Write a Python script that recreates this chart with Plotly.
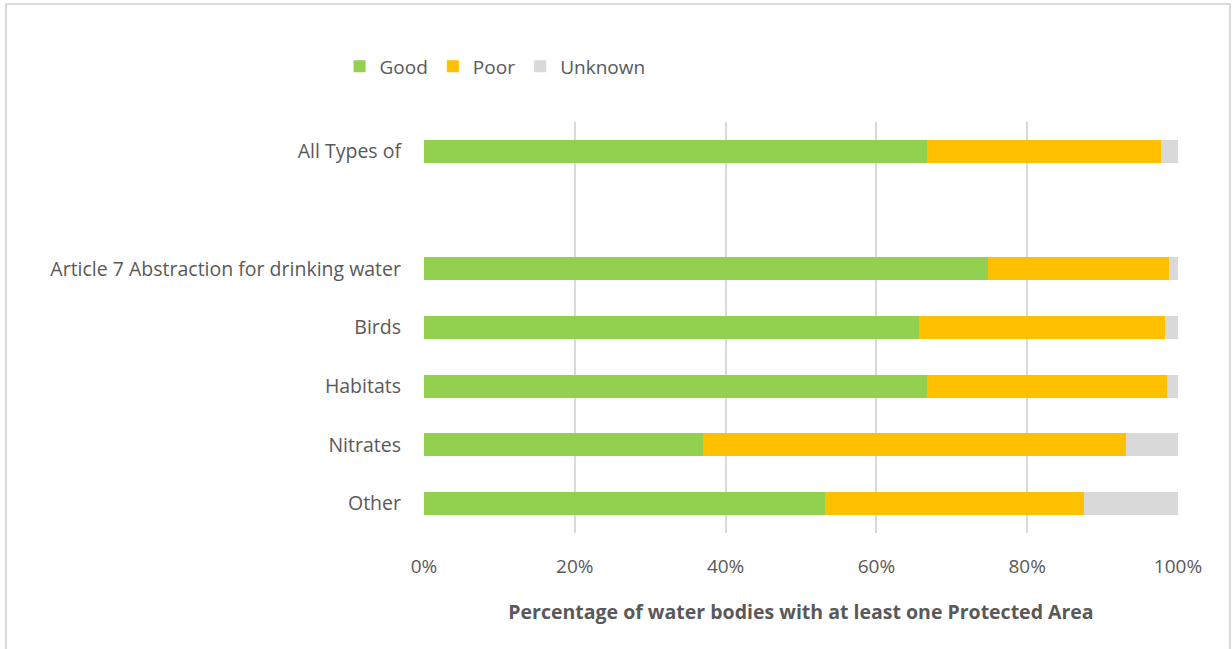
import plotly.graph_objects as go

categories = ["All Types of", " ", "Article 7 Abstraction for drinking water",
              "Birds", "Habitats", "Nitrates", "Other"]
good = [66.7, None, 74.8, 65.7, 66.7, 37.0, 53.2]
poor = [31.0, None, 24.0, 32.6, 31.8, 56.1, 34.3]
unknown = [2.3, None, 1.2, 1.7, 1.5, 6.9, 12.5]
x_ticks = [0, 20, 40, 60, 80, 100]
x_tick_labels = ["0%", "20%", "40%", "60%", "80%", "100%"]

FONT = "Open Sans, Segoe UI, Calibri, sans-serif"
GRAY = "#595959"

fig = go.Figure()
for name, vals, color in [("Good", good, "#92d050"),
                          ("Poor", poor, "#ffc000"),
                          ("Unknown", unknown, "#d9d9d9")]:
    fig.add_trace(go.Bar(y=categories, x=vals, name=name, orientation="h",
                         marker=dict(color=color, line=dict(width=0)),
                         width=0.39))

fig.update_layout(
    barmode="stack",
    width=1232, height=649,
    margin=dict(l=424, r=54, t=122, b=116),
    paper_bgcolor="white", plot_bgcolor="white",
    font=dict(family=FONT, size=19, color=GRAY),
    showlegend=True,
    legend=dict(orientation="h", x=-0.112, xanchor="left", y=1.135, yanchor="middle",
                font=dict(size=19, color=GRAY), traceorder="normal",
                itemwidth=30),
    xaxis=dict(range=[0, 100], tickvals=x_ticks, ticktext=x_tick_labels,
               showgrid=True, gridcolor="#d9d9d9", gridwidth=2,
               zeroline=False, showline=False, ticks="",
               ticklabelstandoff=20,
               tickfont=dict(size=19, color=GRAY),
               title=dict(text="<b>Percentage of water bodies with at least one Protected Area</b>",
                          font=dict(size=19.5, color=GRAY), standoff=27)),
    yaxis=dict(categoryorder="array", categoryarray=categories,
               autorange="reversed", showgrid=False, zeroline=False,
               ticks="", ticklabelstandoff=22,
               tickfont=dict(size=19.5, color=GRAY)),
    shapes=[dict(type="rect", xref="paper", yref="paper",
                 x0=(6 - 424) / 754, x1=(1230 - 424) / 754,
                 y0=(533 - 660) / 411, y1=(533 - 4) / 411,
                 line=dict(color="#d9d9d9", width=2), fillcolor="rgba(0,0,0,0)",
                 layer="below")],
)

fig.write_html("out.html", config={"displayModeBar": False},
               post_script="document.body.style.margin='0';document.body.style.padding='0';document.body.style.overflow='hidden';")
